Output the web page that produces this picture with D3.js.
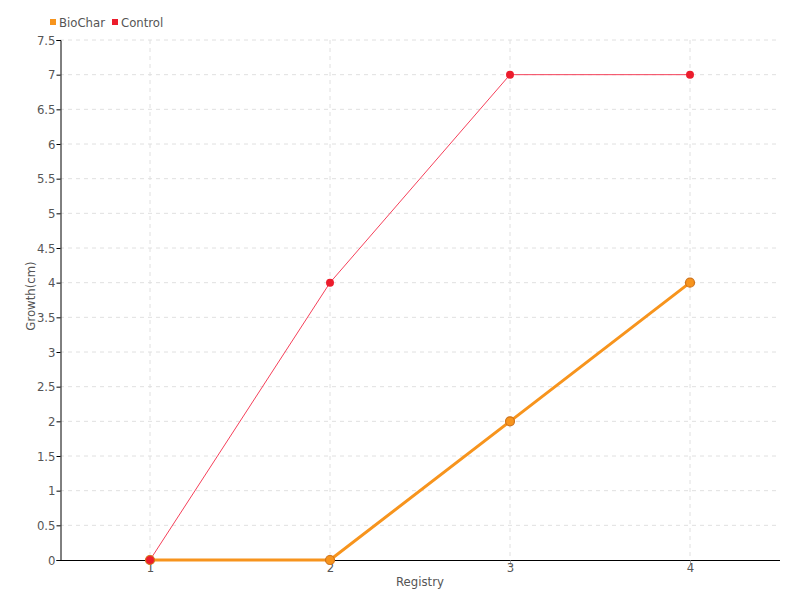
<!DOCTYPE html>
<html><head><meta charset="utf-8">
<script src="https://cdn.jsdelivr.net/npm/d3@7"></script>
<style>
body{margin:0;background:#fff;}
text{font-family:"DejaVu Sans Condensed","Liberation Sans Narrow",sans-serif;fill:#555;}
</style></head>
<body><svg id="c" width="800" height="600"></svg>
<script>
const registry = [1, 2, 3, 4];
const biochar = [0, 0, 2, 4];
const control = [0, 4, 7, 7];
const yTicks = [0, 0.5, 1, 1.5, 2, 2.5, 3, 3.5, 4, 4.5, 5, 5.5, 6, 6.5, 7, 7.5];
const seriesNames = ["BioChar", "Control"];
const colors = ["#f7941d", "#ec1c2c"];

const svg = d3.select("#c");
const x = d3.scaleLinear().domain([0.5, 4.5]).range([60, 780]);
const y = d3.scaleLinear().domain([0, 7.5]).range([560, 40]);

// grid
svg.append("g").selectAll("line").data(yTicks.slice(1)).join("line")
  .attr("x1", 60).attr("x2", 780).attr("y1", d => y(d)).attr("y2", d => y(d))
  .attr("stroke", "#e0e0e0").attr("stroke-dasharray", "4,4");
svg.append("g").selectAll("line").data(registry).join("line")
  .attr("x1", d => x(d)).attr("x2", d => x(d)).attr("y1", 40).attr("y2", 560)
  .attr("stroke", "#e0e0e0").attr("stroke-dasharray", "4,4");

// axes
const yAxis = d3.axisLeft(y).tickValues(yTicks).tickSize(4).tickPadding(1).tickFormat(d3.format("~g"));
const gy = svg.append("g").attr("transform", "translate(60.5,0)").call(yAxis);
gy.select(".domain").attr("stroke", "#000");
gy.selectAll(".tick line").attr("stroke", "#000");
gy.selectAll("text").style("font-size", "13px").attr("fill", "#555");

const xAxis = d3.axisBottom(x).tickValues(registry).tickSize(4).tickPadding(-2).tickFormat(d3.format("d"));
const gx = svg.append("g").attr("transform", "translate(0,560.5)").call(xAxis);
gx.select(".domain").attr("stroke", "#000").attr("d", "M60,0H780");
gx.selectAll(".tick line").attr("stroke", "#aaa");
gx.selectAll("text").style("font-size", "13px").attr("fill", "#555");

// titles
svg.append("text").attr("x", 420).attr("y", 586).attr("text-anchor", "middle")
  .style("font-size", "13px").text("Registry");
svg.append("text").attr("transform", "translate(35,296) rotate(-90)").attr("text-anchor", "middle")
  .style("font-size", "13px").text("Growth(cm)");

// lines
const line = d3.line().x((d, i) => x(registry[i])).y(d => y(d));
svg.append("path").datum(biochar).attr("d", line).attr("fill", "none")
  .attr("stroke", colors[0]).attr("stroke-width", 3);
svg.append("path").datum(control).attr("d", line).attr("fill", "none")
  .attr("stroke", "#f5405a").attr("stroke-width", 1);

svg.append("g").selectAll("circle").data(biochar).join("circle")
  .attr("cx", (d, i) => x(registry[i])).attr("cy", d => y(d)).attr("r", 4.5)
  .attr("fill", colors[0]).attr("stroke", "#d0731a").attr("stroke-width", 1.2);
svg.append("g").selectAll("circle").data(control).join("circle")
  .attr("cx", (d, i) => x(registry[i])).attr("cy", d => y(d)).attr("r", 4)
  .attr("fill", colors[1]);

// legend
const lg = svg.append("g");
const legX = [50, 112];
seriesNames.forEach((n, i) => {
  lg.append("rect").attr("x", legX[i]).attr("y", 19).attr("width", 6).attr("height", 6).attr("fill", colors[i]);
  lg.append("text").attr("x", legX[i] + 9).attr("y", 27).style("font-size", "13px").text(n);
});
</script></body></html>
